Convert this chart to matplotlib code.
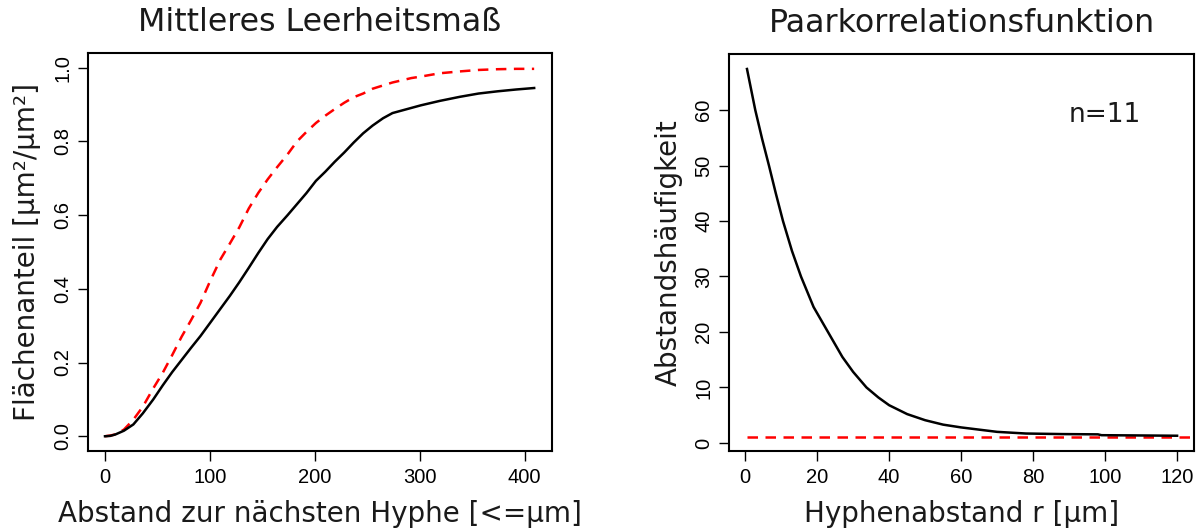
import matplotlib
matplotlib.use('Agg')
import matplotlib.pyplot as plt

plt.rcParams['font.family'] = ['DejaVu Sans']
INK = '#1a1a1a'
TICKFONT = 'Liberation Sans'

# --- Mittleres Leerheitsmass (beobachtet vs. theoretisch) ---
leer_x = [0, 5, 10, 18, 27, 36, 46, 55, 64, 73, 82, 91, 100, 110, 119, 128, 137, 146,
          155, 164, 174, 183, 192, 201, 210, 219, 228, 237, 246, 255, 265, 274, 283,
          292, 301, 319, 338, 356, 374, 392, 409]
leer_obs = [0, 0.001, 0.005, 0.015, 0.032, 0.062, 0.1, 0.138, 0.174, 0.207, 0.24, 0.272,
            0.307, 0.346, 0.381, 0.418, 0.457, 0.497, 0.535, 0.568, 0.6, 0.63, 0.66,
            0.693, 0.718, 0.745, 0.77, 0.797, 0.822, 0.843, 0.863, 0.877, 0.884, 0.891,
            0.898, 0.91, 0.921, 0.93, 0.936, 0.941, 0.945]
leer_theo = [0, 0.002, 0.005, 0.018, 0.045, 0.08, 0.13, 0.172, 0.22, 0.27, 0.315, 0.362,
             0.42, 0.48, 0.523, 0.567, 0.618, 0.66, 0.697, 0.73, 0.765, 0.80, 0.826,
             0.85, 0.87, 0.888, 0.905, 0.92, 0.93, 0.943, 0.952, 0.96, 0.966, 0.972,
             0.976, 0.985, 0.99, 0.994, 0.996, 0.997, 0.997]

# --- Paarkorrelationsfunktion ---
pk_r = [0.5, 2.8, 4.7, 6.6, 8.5, 10.5, 13, 15.5, 19, 23, 27, 30, 33.7, 37, 40, 45, 50,
        55, 60, 65, 70, 78, 88, 98, 99, 110, 120]
pk_g = [67.4, 60, 54.8, 50, 45, 40, 34.6, 30, 24.5, 20, 15.5, 12.8, 10, 8.2, 6.8, 5.2,
        4.1, 3.3, 2.8, 2.4, 2.0, 1.7, 1.6, 1.55, 1.4, 1.35, 1.3]
pk_ref_r = [0.5, 130]
pk_ref_g = [1, 1]
n_label = 'n=11'

fig = plt.figure(figsize=(12.04, 5.31), dpi=100)
ax1 = fig.add_axes([88 / 1204, (531 - 451) / 531, 464 / 1204, 398 / 531])
ax2 = fig.add_axes([729 / 1204, (531 - 451) / 531, 465 / 1204, 397 / 531])


def style(ax):
    for s in ax.spines.values():
        s.set_linewidth(1.5)
        s.set_color('black')
    ax.tick_params(direction='out', length=7, width=1, color='black',
                   labelsize=14.5, labelcolor='black')
    ax.tick_params(axis='x', pad=5.5)
    ax.tick_params(axis='y', pad=4.5)
    for lab in ax.get_xticklabels() + ax.get_yticklabels():
        lab.set_family(TICKFONT)
    for lab in ax.get_yticklabels():
        lab.set_rotation(90)
        lab.set_va('center')


# links
ax1.plot(leer_x, leer_theo, color='red', lw=1.8, dashes=(4.2, 3.0))
ax1.plot(leer_x, leer_obs, color='black', lw=1.8)
ax1.set_xlim(-16.2, 426)
ax1.set_ylim(-0.04, 1.04)
ax1.set_xticks([0, 100, 200, 300, 400])
ax1.set_yticks([0, 0.2, 0.4, 0.6, 0.8, 1.0])
ax1.set_yticklabels(['0.0', '0.2', '0.4', '0.6', '0.8', '1.0'])
style(ax1)
ax1.set_title('Mittleres Leerheitsmaß', fontsize=22.8, color=INK, pad=16)
ax1.set_xlabel('Abstand zur nächsten Hyphe [<=µm]', fontsize=20, color=INK, labelpad=9)
ax1.set_ylabel('Flächenanteil [µm²/µm²]', fontsize=20, color=INK, labelpad=9)

# rechts
ax2.plot(pk_ref_r, pk_ref_g, color='red', lw=1.8, dashes=(4.2, 3.0))
ax2.plot(pk_r, pk_g, color='black', lw=1.8)
ax2.set_xlim(-4.5, 124.7)
ax2.set_ylim(-1.45, 70.1)
ax2.set_xticks([0, 20, 40, 60, 80, 100, 120])
ax2.set_yticks([0, 10, 20, 30, 40, 50, 60])
style(ax2)
ax2.text(100, 57.9, n_label, ha='center', va='baseline', fontsize=19, color=INK)
ax2.set_title('Paarkorrelationsfunktion', fontsize=22.8, color=INK, pad=16)
ax2.set_xlabel('Hyphenabstand r [µm]', fontsize=20, color=INK, labelpad=9)
ax2.set_ylabel('Abstandshäufigkeit', fontsize=20, color=INK, labelpad=8)

fig.savefig('out.png', dpi=100, facecolor='white')
